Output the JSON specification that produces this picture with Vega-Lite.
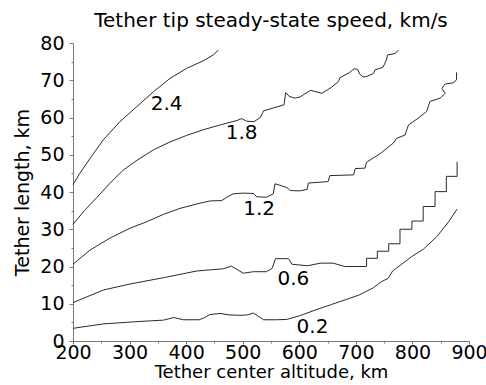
{
  "$schema": "https://vega.github.io/schema/vega-lite/v6.json",
  "width": 396,
  "height": 298,
  "autosize": {"type": "none"},
  "padding": {"left": 73, "top": 43, "right": 17, "bottom": 44},
  "config": {"view": {"stroke": null}, "font": "DejaVu Sans"},
  "title": {"text": "Tether tip steady-state speed, km/s", "fontSize": 20, "fontWeight": "normal", "font": "DejaVu Sans", "color": "black", "offset": 3},
  "datasets": {
    "lines": [
      {"c": "2.4", "x": 200, "y": 42}, {"c": "2.4", "x": 212, "y": 45}, {"c": "2.4", "x": 230, "y": 49}, {"c": "2.4", "x": 253.6, "y": 54}, {"c": "2.4", "x": 283, "y": 58.9}, {"c": "2.4", "x": 312.6, "y": 62.9}, {"c": "2.4", "x": 342, "y": 66.9}, {"c": "2.4", "x": 371.5, "y": 70.5}, {"c": "2.4", "x": 401, "y": 73.2}, {"c": "2.4", "x": 430, "y": 75.2}, {"c": "2.4", "x": 448, "y": 76.8}, {"c": "2.4", "x": 457, "y": 78.1},
      {"c": "1.8", "x": 200, "y": 31.3}, {"c": "1.8", "x": 220, "y": 35}, {"c": "1.8", "x": 242, "y": 38.5}, {"c": "1.8", "x": 265, "y": 42.3}, {"c": "1.8", "x": 289, "y": 45.9}, {"c": "1.8", "x": 313, "y": 48.5}, {"c": "1.8", "x": 342, "y": 51.3}, {"c": "1.8", "x": 371, "y": 53.4}, {"c": "1.8", "x": 401, "y": 55.2}, {"c": "1.8", "x": 430, "y": 56.7}, {"c": "1.8", "x": 460, "y": 58}, {"c": "1.8", "x": 490, "y": 59.2}, {"c": "1.8", "x": 498, "y": 59.7}, {"c": "1.8", "x": 507, "y": 59.0}, {"c": "1.8", "x": 520, "y": 58.9}, {"c": "1.8", "x": 531, "y": 60.0}, {"c": "1.8", "x": 537, "y": 61.8}, {"c": "1.8", "x": 555, "y": 62.6}, {"c": "1.8", "x": 573, "y": 63.4}, {"c": "1.8", "x": 576, "y": 66.7}, {"c": "1.8", "x": 582, "y": 65.7}, {"c": "1.8", "x": 592, "y": 65.2}, {"c": "1.8", "x": 601, "y": 65.5}, {"c": "1.8", "x": 620, "y": 67.3}, {"c": "1.8", "x": 640, "y": 66.5}, {"c": "1.8", "x": 656, "y": 68.0}, {"c": "1.8", "x": 669, "y": 69.6}, {"c": "1.8", "x": 672, "y": 70.7}, {"c": "1.8", "x": 688, "y": 72.0}, {"c": "1.8", "x": 697, "y": 73.1}, {"c": "1.8", "x": 703, "y": 72.9}, {"c": "1.8", "x": 707, "y": 71.6}, {"c": "1.8", "x": 713, "y": 70.9}, {"c": "1.8", "x": 719, "y": 71.0}, {"c": "1.8", "x": 731, "y": 71.8}, {"c": "1.8", "x": 734, "y": 72.8}, {"c": "1.8", "x": 748, "y": 73.5}, {"c": "1.8", "x": 754, "y": 75.4}, {"c": "1.8", "x": 756, "y": 76.8}, {"c": "1.8", "x": 770, "y": 77.2}, {"c": "1.8", "x": 775, "y": 78.1},
      {"c": "1.2", "x": 200, "y": 20.6}, {"c": "1.2", "x": 230, "y": 24.4}, {"c": "1.2", "x": 265, "y": 27.6}, {"c": "1.2", "x": 301, "y": 30.3}, {"c": "1.2", "x": 330, "y": 32.0}, {"c": "1.2", "x": 360, "y": 34.0}, {"c": "1.2", "x": 389, "y": 35.6}, {"c": "1.2", "x": 419, "y": 36.8}, {"c": "1.2", "x": 442, "y": 37.6}, {"c": "1.2", "x": 463, "y": 37.7}, {"c": "1.2", "x": 472, "y": 38.6}, {"c": "1.2", "x": 483, "y": 39.5}, {"c": "1.2", "x": 500, "y": 39.7}, {"c": "1.2", "x": 519, "y": 39.6}, {"c": "1.2", "x": 525, "y": 38.7}, {"c": "1.2", "x": 542, "y": 38.6}, {"c": "1.2", "x": 554, "y": 39.5}, {"c": "1.2", "x": 557, "y": 42.2}, {"c": "1.2", "x": 568, "y": 41.7}, {"c": "1.2", "x": 578, "y": 41.2}, {"c": "1.2", "x": 584, "y": 40.4}, {"c": "1.2", "x": 601, "y": 40.3}, {"c": "1.2", "x": 614, "y": 40.7}, {"c": "1.2", "x": 616, "y": 42.4}, {"c": "1.2", "x": 651, "y": 42.8}, {"c": "1.2", "x": 654, "y": 44.4}, {"c": "1.2", "x": 696, "y": 44.6}, {"c": "1.2", "x": 699, "y": 46.3}, {"c": "1.2", "x": 716, "y": 46.4}, {"c": "1.2", "x": 719, "y": 48.0}, {"c": "1.2", "x": 743, "y": 50.3}, {"c": "1.2", "x": 766, "y": 53.1}, {"c": "1.2", "x": 772, "y": 54.4}, {"c": "1.2", "x": 787, "y": 55.3}, {"c": "1.2", "x": 793, "y": 58.0}, {"c": "1.2", "x": 810, "y": 59.8}, {"c": "1.2", "x": 825, "y": 61.6}, {"c": "1.2", "x": 831, "y": 64.3}, {"c": "1.2", "x": 849, "y": 65.2}, {"c": "1.2", "x": 858, "y": 66.5}, {"c": "1.2", "x": 852, "y": 67.8}, {"c": "1.2", "x": 858, "y": 69.0}, {"c": "1.2", "x": 872, "y": 69.3}, {"c": "1.2", "x": 878, "y": 70.1}, {"c": "1.2", "x": 878, "y": 72.1},
      {"c": "0.6", "x": 200, "y": 10.3}, {"c": "0.6", "x": 254, "y": 13.7}, {"c": "0.6", "x": 301, "y": 15.3}, {"c": "0.6", "x": 360, "y": 17.0}, {"c": "0.6", "x": 419, "y": 18.8}, {"c": "0.6", "x": 466, "y": 19.4}, {"c": "0.6", "x": 480, "y": 20.1}, {"c": "0.6", "x": 501, "y": 18.2}, {"c": "0.6", "x": 519, "y": 18.6}, {"c": "0.6", "x": 542, "y": 18.6}, {"c": "0.6", "x": 552, "y": 19.5}, {"c": "0.6", "x": 558, "y": 22.1}, {"c": "0.6", "x": 581, "y": 22.1}, {"c": "0.6", "x": 587, "y": 20.6}, {"c": "0.6", "x": 615, "y": 20.2}, {"c": "0.6", "x": 637, "y": 20.9}, {"c": "0.6", "x": 660, "y": 20.9}, {"c": "0.6", "x": 680, "y": 20.0}, {"c": "0.6", "x": 719, "y": 20.0}, {"c": "0.6", "x": 719, "y": 22.2}, {"c": "0.6", "x": 738, "y": 22.2}, {"c": "0.6", "x": 738, "y": 24.1}, {"c": "0.6", "x": 758, "y": 24.1}, {"c": "0.6", "x": 758, "y": 26.1}, {"c": "0.6", "x": 778, "y": 26.1}, {"c": "0.6", "x": 778, "y": 30.0}, {"c": "0.6", "x": 799, "y": 30.0}, {"c": "0.6", "x": 799, "y": 32.2}, {"c": "0.6", "x": 819, "y": 32.2}, {"c": "0.6", "x": 819, "y": 36.1}, {"c": "0.6", "x": 840, "y": 36.1}, {"c": "0.6", "x": 840, "y": 40.1}, {"c": "0.6", "x": 860, "y": 40.1}, {"c": "0.6", "x": 860, "y": 44.2}, {"c": "0.6", "x": 879, "y": 44.2}, {"c": "0.6", "x": 879, "y": 48.1},
      {"c": "0.2", "x": 200, "y": 3.4}, {"c": "0.2", "x": 254, "y": 4.6}, {"c": "0.2", "x": 313, "y": 5.2}, {"c": "0.2", "x": 360, "y": 5.6}, {"c": "0.2", "x": 378, "y": 6.3}, {"c": "0.2", "x": 395, "y": 5.7}, {"c": "0.2", "x": 423, "y": 5.7}, {"c": "0.2", "x": 433, "y": 6.3}, {"c": "0.2", "x": 442, "y": 7.1}, {"c": "0.2", "x": 460, "y": 7.4}, {"c": "0.2", "x": 476, "y": 7.0}, {"c": "0.2", "x": 495, "y": 6.9}, {"c": "0.2", "x": 508, "y": 7.0}, {"c": "0.2", "x": 519, "y": 7.5}, {"c": "0.2", "x": 537, "y": 5.7}, {"c": "0.2", "x": 560, "y": 5.7}, {"c": "0.2", "x": 578, "y": 5.8}, {"c": "0.2", "x": 601, "y": 6.8}, {"c": "0.2", "x": 628, "y": 8.3}, {"c": "0.2", "x": 657, "y": 9.8}, {"c": "0.2", "x": 684, "y": 11.2}, {"c": "0.2", "x": 705, "y": 12.3}, {"c": "0.2", "x": 731, "y": 14.3}, {"c": "0.2", "x": 746, "y": 16.0}, {"c": "0.2", "x": 757, "y": 16.8}, {"c": "0.2", "x": 765, "y": 18.8}, {"c": "0.2", "x": 780, "y": 20.5}, {"c": "0.2", "x": 800, "y": 22.8}, {"c": "0.2", "x": 819, "y": 24.6}, {"c": "0.2", "x": 843, "y": 28.0}, {"c": "0.2", "x": 864, "y": 32.0}, {"c": "0.2", "x": 879, "y": 35.4}
    ],
    "labels": [
      {"label": "2.4", "x": 365.6, "y": 63.5},
      {"label": "1.8", "x": 498, "y": 55.8},
      {"label": "1.2", "x": 529, "y": 35.5},
      {"label": "0.6", "x": 589.5, "y": 16.6},
      {"label": "0.2", "x": 623.4, "y": 3.85}
    ]
  },
  "layer": [
    {
      "data": {"name": "lines"},
      "mark": {"type": "line", "color": "#2a2a2a", "strokeWidth": 1, "strokeJoin": "round"},
      "encoding": {
        "x": {"field": "x", "type": "quantitative", "scale": {"domain": [200, 900], "nice": false, "zero": false},
              "axis": {"orient": "bottom", "values": [200, 300, 400, 500, 600, 700, 800, 900], "title": "Tether center altitude, km", "titleFontSize": 18, "titleFontWeight": "normal", "titleColor": "black", "titlePadding": 1, "labelFontSize": 19, "labelColor": "black", "labelPadding": -1, "tickSize": 3, "tickColor": "#777", "domainColor": "#777", "grid": false, "labelFlush": false, "labelOverlap": false}},
        "y": {"field": "y", "type": "quantitative", "scale": {"domain": [0, 80], "nice": false},
              "axis": {"orient": "left", "values": [0, 10, 20, 30, 40, 50, 60, 70, 80], "title": "Tether length, km", "titleFontSize": 19, "titleFontWeight": "normal", "titleColor": "black", "titlePadding": 7, "labelFontSize": 19, "labelColor": "black", "labelPadding": 5, "tickSize": 4, "tickColor": "#777", "domainColor": "#777", "grid": false, "labelFlush": false, "labelOverlap": false}},
        "detail": {"field": "c"},
        "order": {"value": null}
      }
    },
    {
      "data": {"name": "labels"},
      "mark": {"type": "text", "fontSize": 20, "color": "black", "align": "center", "baseline": "middle", "font": "DejaVu Sans"},
      "encoding": {
        "x": {"field": "x", "type": "quantitative", "axis": null},
        "y": {"field": "y", "type": "quantitative", "axis": null},
        "text": {"field": "label"}
      }
    },
    {
      "data": {"name": "labels"},
      "mark": {"type": "point", "opacity": 0},
      "encoding": {
        "x": {"field": "x", "type": "quantitative", "axis": {"orient": "bottom", "values": [250, 350, 450, 550, 650, 750, 850], "labels": false, "domain": false, "tickSize": 2, "tickColor": "#777", "title": null, "grid": false}},
        "y": {"field": "y", "type": "quantitative", "axis": {"orient": "left", "values": [5, 15, 25, 35, 45, 55, 65, 75], "labels": false, "domain": false, "tickSize": 2, "tickColor": "#777", "title": null, "grid": false}}
      }
    }
  ],
  "resolve": {"axis": {"x": "independent", "y": "independent"}}
}
